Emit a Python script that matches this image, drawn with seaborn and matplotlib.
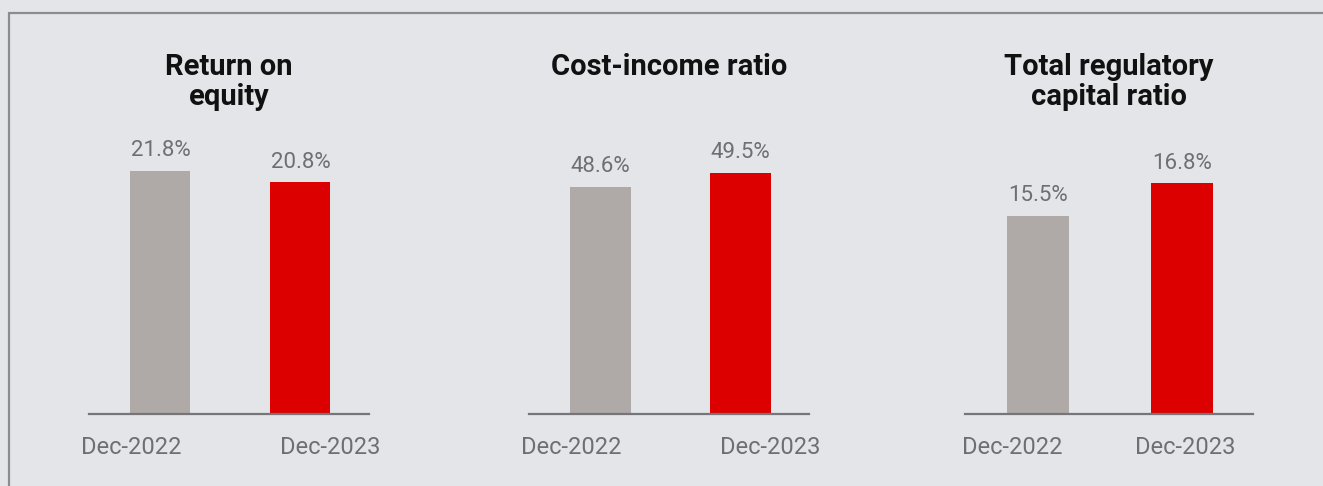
import matplotlib
matplotlib.use("Agg")
import matplotlib.pyplot as plt
import matplotlib.transforms as mtransforms
from matplotlib.lines import Line2D
import seaborn as sns
import pandas as pd

# ---- data ----
periods = ["Dec-2022", "Dec-2023"]
titles = ["Return on\nequity", "Cost-income ratio", "Total regulatory\ncapital ratio"]
roe = [21.8, 20.8]
cost_income = [48.6, 49.5]
capital_ratio = [15.5, 16.8]
series = [roe, cost_income, capital_ratio]

# ---- style ----
BG = "#e3e5e8"
GRAY_BAR = "#afa9a8"
RED_BAR = "#dc0000"
TEXT_GRAY = "#6f6f73"
LINE_GRAY = "#75757a"
BORDER = "#8c8c90"

sns.set_theme(style="white")
plt.rcParams["font.family"] = ["Roboto", "DejaVu Sans"]

W, H = 1323, 486
fig = plt.figure(figsize=(W / 100, H / 100), dpi=100, facecolor=BG)

# axes placement (pixels): left, right; common baseline and top
panels_px = [(89, 369), (529, 809), (965, 1253)]
base_y, top_y = 414, 140
ylims = [(0, 24.6), (33.65, 51.68), (7.54, 18.54)]
tick_shift = [(-29, 30), (-29, 30), (-26, 3)]

for i, (vals, title) in enumerate(zip(series, titles)):
    l, r = panels_px[i]
    ax = fig.add_axes([l / W, 1 - base_y / H, (r - l) / W, (base_y - top_y) / H])
    ax.set_facecolor("none")
    df = pd.DataFrame({"period": periods, "value": vals})
    sns.barplot(data=df, x="period", y="value", hue="period",
                palette=[GRAY_BAR, RED_BAR], saturation=1, width=0.43,
                legend=False, linewidth=0, ax=ax)
    ax.set_xlim(-0.51, 1.49)
    ax.set_ylim(*ylims[i])
    for c in ax.containers:
        ax.bar_label(c, labels=[f"{v:.1f}%" for v in c.datavalues],
                     padding=7, color=TEXT_GRAY, fontsize=16)
    ax.set_xlabel("")
    ax.set_ylabel("")
    ax.set_yticks([])
    for s in ["top", "left", "right"]:
        ax.spines[s].set_visible(False)
    ax.spines["bottom"].set_color(LINE_GRAY)
    ax.spines["bottom"].set_linewidth(1.6)
    ax.tick_params(axis="x", length=0, pad=16, labelsize=17, labelcolor=TEXT_GRAY)
    for lab, dx in zip(ax.get_xticklabels(), tick_shift[i]):
        lab.set_transform(lab.get_transform() +
                          mtransforms.ScaledTranslation(dx / 100, 0, fig.dpi_scale_trans))
    ax.text(0.5, 1 + 87 / (base_y - top_y), title, transform=ax.transAxes,
            ha="center", va="top", fontsize=21, fontweight="bold",
            color="#111111", linespacing=1.1)

# frame lines (top and left)
fig.add_artist(Line2D([9 / W, 1], [1 - 13 / H, 1 - 13 / H], color=BORDER, lw=1.6,
                      transform=fig.transFigure))
fig.add_artist(Line2D([9 / W, 9 / W], [0, 1 - 13 / H], color=BORDER, lw=1.6,
                      transform=fig.transFigure))

fig.savefig("out.png", dpi=100, facecolor=BG)
